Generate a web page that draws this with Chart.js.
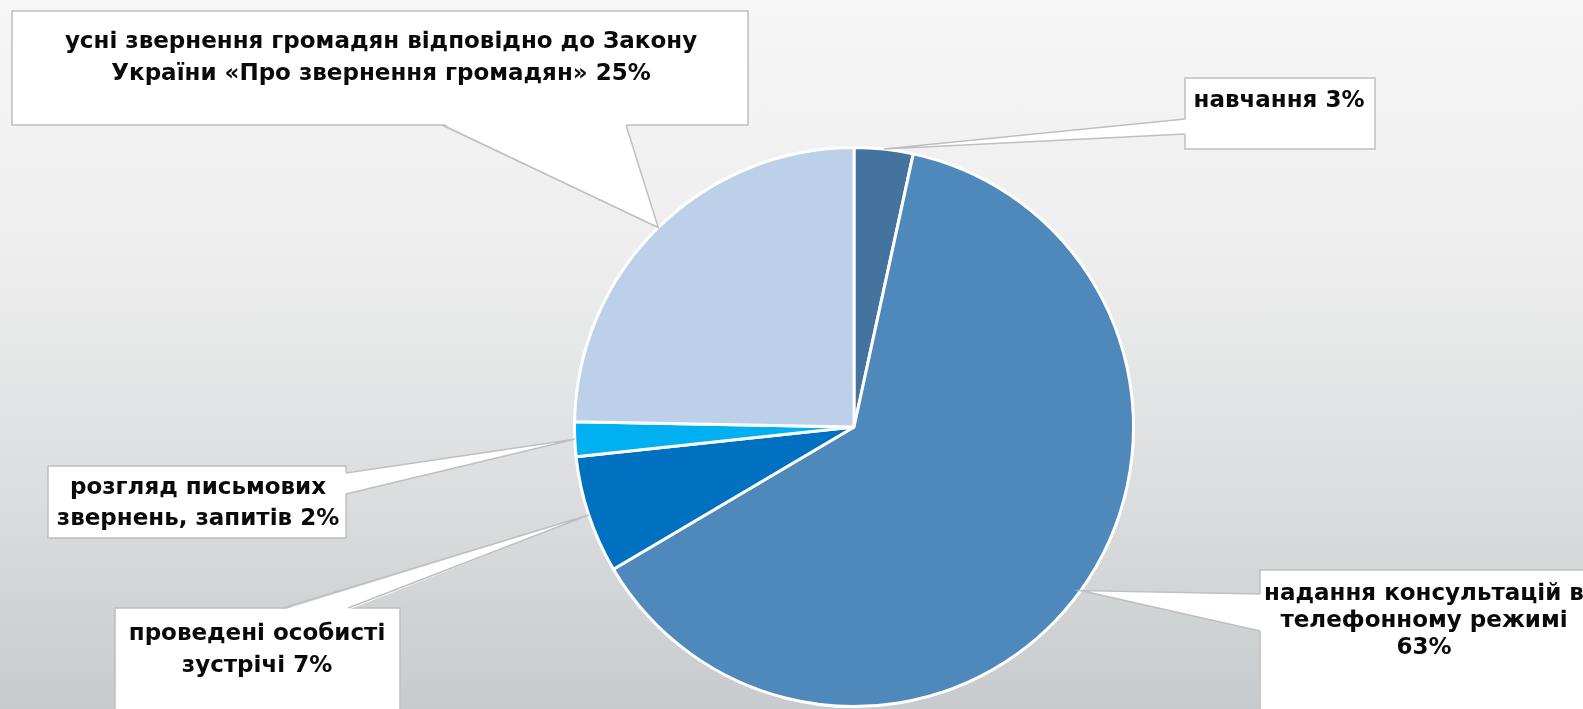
<!DOCTYPE html>
<html>
<head>
<meta charset="utf-8">
<script src="https://cdn.jsdelivr.net/npm/chart.js@4.4.0/dist/chart.umd.min.js"></script>
<style>
  html, body { margin: 0; padding: 0; }
  body {
    width: 1583px; height: 709px; overflow: hidden;
    background: linear-gradient(to bottom, #f6f6f6 0%, #eeeeee 35%, #dcdedf 68%, #c8cbcd 100%);
  }
  #wrap { position: relative; width: 1583px; height: 709px; }
</style>
</head>
<body>
<div id="wrap"><canvas id="chart"></canvas></div>
<script>
// data
const categories = [
  "навчання",
  "надання консультацій в телефонному режимі",
  "проведені особисті зустрічі",
  "розгляд письмових звернень, запитів",
  "усні звернення громадян відповідно до Закону України «Про звернення громадян»"
];
const values = [3.4, 63.1, 6.8, 2.0, 24.7];
const sliceColors = ["#44739f", "#4f89bc", "#0070c0", "#00b0f0", "#bdd0e9"];
// label text, percent gets added to the last line
const labelLines = [
  ["навчання"],
  ["надання консультацій в", "телефонному режимі", ""],
  ["проведені особисті", "зустрічі"],
  ["розгляд письмових", "звернень, запитів"],
  ["усні звернення громадян відповідно до Закону", "України «Про звернення громадян»"]
];

// callout boxes: box rect, first text line middle, line height, wedge base points
const callouts = [
  { x: 1185, y: 78, w: 190, h: 71, cx: 1279, ty: 101, lh: 31, base: [[1185, 119], [1185, 134]] },
  { x: 1260, y: 570, w: 340, h: 160, cx: 1424, ty: 594, lh: 27, base: [[1260, 594], [1260, 631]] },
  { x: 115, y: 608, w: 285, h: 120, cx: 257, ty: 634, lh: 32, base: [[283, 608], [348, 608]] },
  { x: 48, y: 466, w: 298, h: 72, cx: 198, ty: 488, lh: 31, base: [[346, 473], [346, 494]] },
  { x: 12, y: 11, w: 736, h: 114, cx: 381, ty: 42, lh: 32, base: [[442, 125], [626, 125]] }
];

const total = values.reduce((a, b) => a + b, 0);

const calloutPlugin = {
  id: "callouts",
  afterDraw(chart) {
    const c = chart.ctx;
    const arcs = chart.getDatasetMeta(0).data;
    c.save();
    callouts.forEach((b, i) => {
      const arc = arcs[i];
      const mid = (arc.startAngle + arc.endAngle) / 2;
      const tip = [arc.x + Math.cos(mid) * arc.outerRadius, arc.y + Math.sin(mid) * arc.outerRadius];

      // box
      c.fillStyle = "#ffffff";
      c.strokeStyle = "#bfbfbf";
      c.lineWidth = 1.5;
      c.fillRect(b.x, b.y, b.w, b.h);
      c.strokeRect(b.x, b.y, b.w, b.h);

      // wedge (covers the border where it joins the box)
      const p1 = b.base[0], p2 = b.base[1];
      let nx = 0, ny = 0;
      if (p1[0] === p2[0]) nx = (p1[0] === b.x) ? 2 : -2;
      else ny = (p1[1] === b.y) ? 2 : -2;
      c.beginPath();
      c.moveTo(p1[0] + nx, p1[1] + ny);
      c.lineTo(tip[0], tip[1]);
      c.lineTo(p2[0] + nx, p2[1] + ny);
      c.closePath();
      c.fill();
      c.beginPath();
      c.moveTo(p1[0], p1[1]);
      c.lineTo(tip[0], tip[1]);
      c.lineTo(p2[0], p2[1]);
      c.stroke();

      // text
      const pct = Math.round(values[i] / total * 100) + "%";
      const lines = labelLines[i].slice();
      const last = lines.length - 1;
      lines[last] = lines[last] ? lines[last] + " " + pct : pct;
      c.fillStyle = "#0a0a0a";
      c.font = "bold 23px 'DejaVu Sans'";
      c.textAlign = "center";
      c.textBaseline = "middle";
      lines.forEach((t, k) => c.fillText(t, b.cx, b.ty + k * b.lh));
    });
    c.restore();
  }
};

const ctx = document.getElementById("chart").getContext("2d");
const chart = new Chart(ctx, {
  type: "pie",
  data: {
    labels: categories,
    datasets: [{
      data: values,
      backgroundColor: sliceColors,
      borderColor: "#ffffff",
      borderWidth: 3
    }]
  },
  options: {
    responsive: true,
    maintainAspectRatio: false,
    animation: false,
    layout: { padding: { left: 573, right: 448, top: 146, bottom: 1 } },
    plugins: {
      legend: { display: false },
      tooltip: { enabled: false }
    }
  },
  plugins: [calloutPlugin]
});
</script>
</body>
</html>
